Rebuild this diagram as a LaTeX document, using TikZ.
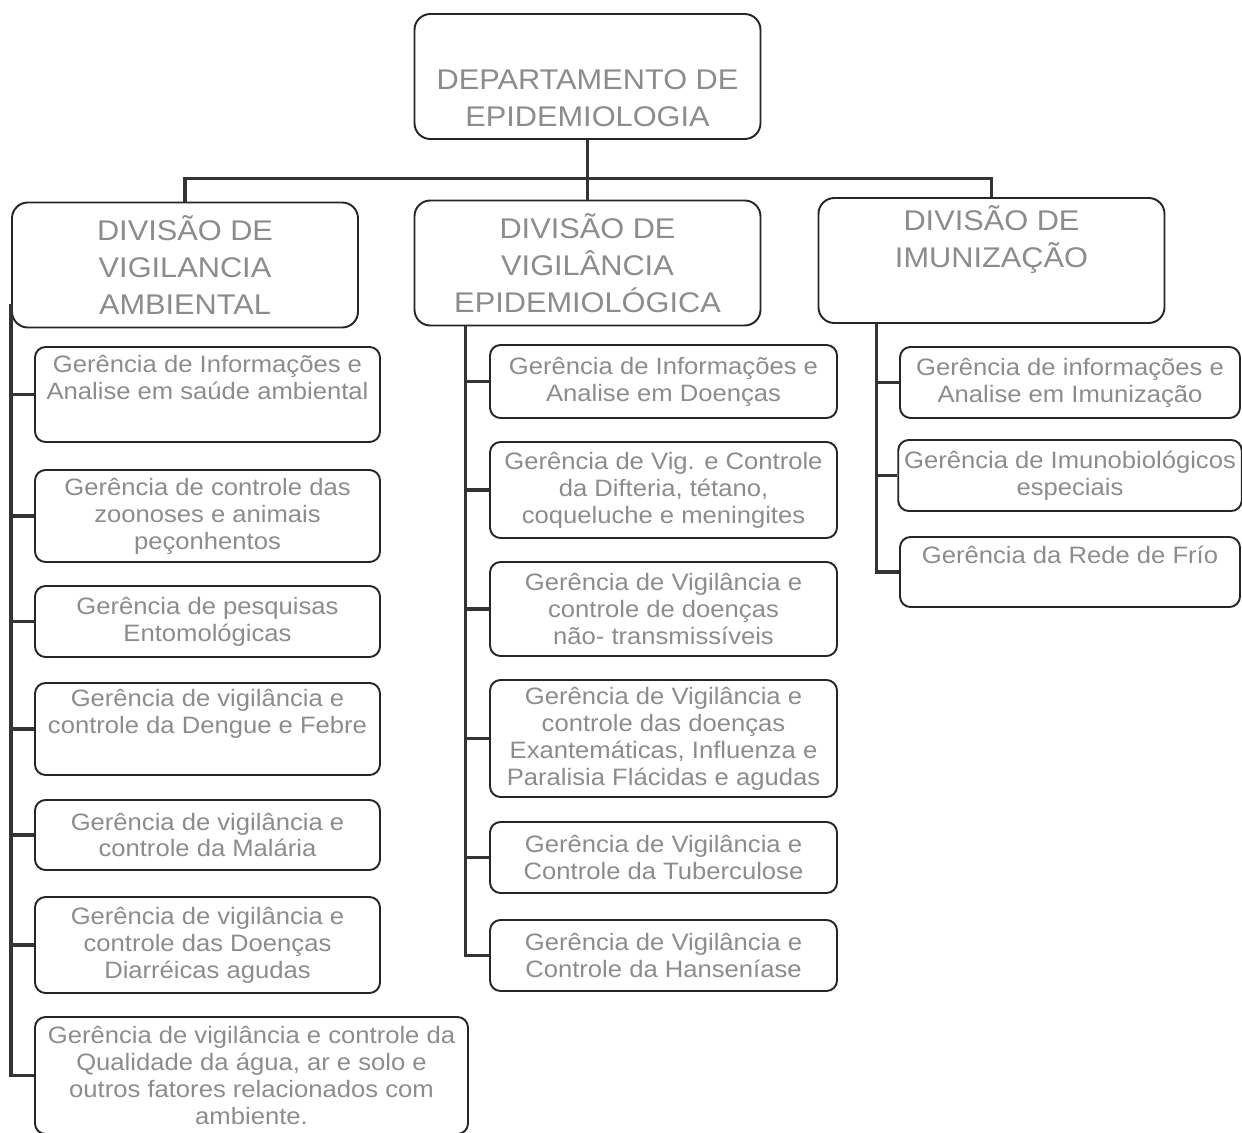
\documentclass[tikz,border=0pt]{standalone}
\usepackage{fontspec}
\setmainfont{Liberation Sans}[FakeStretch=1.08]
\usepackage{tikz}
\usetikzlibrary{calc,positioning}
\tikzset{
  line cap=round,
  line join=round,
  headbox/.style={draw=black!85, line width=1.1pt, rounded corners=9pt, align=center,
    text=black!45, font=\fontsize{16.2}{21}\selectfont, minimum width=6.92cm, minimum height=2.5cm},
  subbox/.style={draw=black!85, line width=1.1pt, rounded corners=6pt, align=center,
    text=black!45, font=\fontsize{13.5}{15.3}\selectfont, minimum width=6.9cm},
  link/.style={draw=black!80, line width=2.2pt}
}

\begin{document}
\begin{tikzpicture}
\useasboundingbox (0,0) rectangle (24.84,-22.66);

% departamento e divisoes
\node[headbox] (top) at (11.75,-1.53) {\strut\\DEPARTAMENTO DE\\EPIDEMIOLOGIA};
\node[headbox] (ldiv) at (3.7,-5.3) {DIVISÃO DE\\VIGILANCIA\\AMBIENTAL};
\node[headbox] (mdiv) at (11.75,-5.26) {DIVISÃO DE\\VIGILÂNCIA\\EPIDEMIOLÓGICA};
\node[headbox] (rdiv) at (19.83,-5.21) {DIVISÃO DE\\IMUNIZAÇÃO\\\strut};

% ligacoes do topo
\draw[link] (top) -- (mdiv);
\draw[link] (ldiv.north) -- ++(0,0.46) -| (rdiv.north);

% vigilancia ambiental
\node[subbox, minimum height=1.9cm] (la1) at (4.15,-7.89) {Gerência de Informações e\\Analise em saúde ambiental\\\strut};
\node[subbox, minimum height=1.84cm] (la2) at (4.15,-10.32) {Gerência de controle das\\zoonoses e animais\\peçonhentos};
\node[subbox, minimum height=1.42cm] (la3) at (4.15,-12.43) {Gerência de pesquisas\\Entomológicas};
\node[subbox, minimum height=1.84cm] (la4) at (4.15,-14.58) {Gerência de vigilância e\\controle da Dengue e Febre\\\strut};
\node[subbox, minimum height=1.4cm] (la5) at (4.15,-16.7) {Gerência de vigilância e\\controle da Malária};
\node[subbox, minimum height=1.92cm] (la6) at (4.15,-18.9) {Gerência de vigilância e\\controle das Doenças\\Diarréicas agudas};
\node[subbox, minimum height=2.34cm, minimum width=8.66cm] (la7) at (5.03,-21.51) {Gerência de vigilância e controle da\\Qualidade da água, ar e solo e\\outros fatores relacionados com\\ambiente.};

% vigilancia epidemiologica
\node[subbox, minimum width=6.94cm, minimum height=1.46cm] (me1) at (13.27,-7.63) {Gerência de Informações e\\Analise em Doenças};
\node[subbox, minimum width=6.94cm, minimum height=1.92cm] (me2) at (13.27,-9.8) {Gerência de Vig. e Controle\\da Difteria, tétano,\\coqueluche e meningites};
\node[subbox, minimum width=6.94cm, minimum height=1.88cm] (me3) at (13.27,-12.18) {Gerência de Vigilância e\\controle de doenças\\não- transmissíveis};
\node[subbox, minimum width=6.94cm, minimum height=2.34cm] (me4) at (13.27,-14.77) {Gerência de Vigilância e\\controle das doenças\\Exantemáticas, Influenza e\\Paralisia Flácidas e agudas};
\node[subbox, minimum width=6.94cm, minimum height=1.42cm] (me5) at (13.27,-17.15) {Gerência de Vigilância e\\Controle da Tuberculose};
\node[subbox, minimum width=6.94cm, minimum height=1.42cm] (me6) at (13.27,-19.11) {Gerência de Vigilância e\\Controle da Hanseníase};

% imunizacao
\node[subbox, minimum width=6.8cm, minimum height=1.42cm] (ri1) at (21.4,-7.65) {Gerência de informações e\\Analise em Imunização};
\node[subbox, minimum width=6.8cm, minimum height=1.42cm] (ri2) at (21.4,-9.51) {Gerência de Imunobiológicos\\especiais};
\node[subbox, minimum width=6.8cm, minimum height=1.4cm] (ri3) at (21.4,-11.44) {Gerência da Rede de Frío\\\strut};

% linhas verticais
\coordinate (lspine) at ([yshift=4.8mm]ldiv.south west);
\coordinate (mspine) at ([xshift=10.4mm]mdiv.south west);
\coordinate (rspine) at ([xshift=11.8mm]rdiv.south west);
\foreach \c in {la1,la2,la3,la4,la5,la6,la7}
  \draw[link] (lspine) |- (\c.west);
\foreach \c in {me1,me2,me3,me4,me5,me6}
  \draw[link] (mspine) |- (\c.west);
\foreach \c in {ri1,ri2,ri3}
  \draw[link] (rspine) |- (\c.west);

\end{tikzpicture}
\end{document}
